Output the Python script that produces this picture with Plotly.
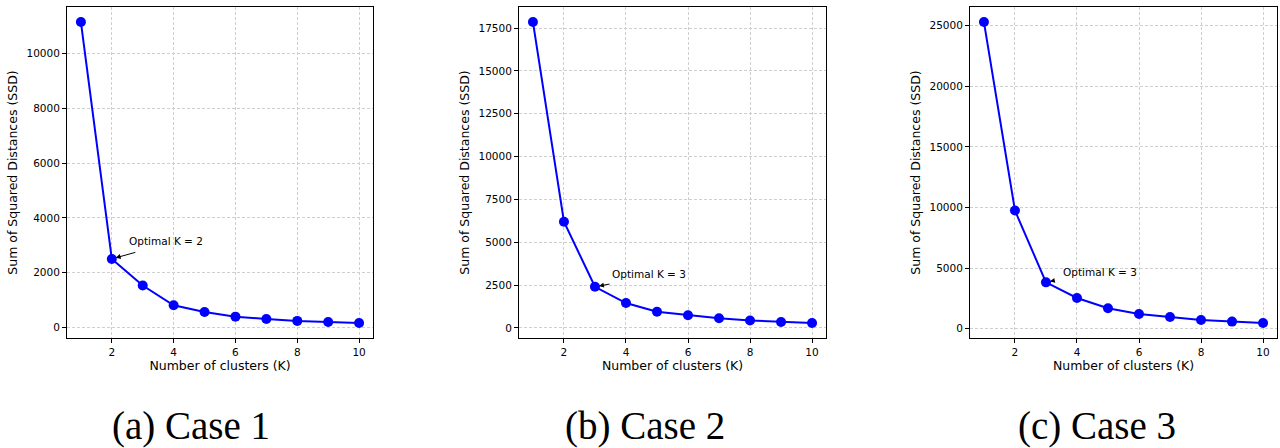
import plotly.graph_objects as go

W, H = 1280, 448

k_values = [1, 2, 3, 4, 5, 6, 7, 8, 9, 10]
ssd_case1 = [11160, 2500, 1530, 805, 560, 390, 305, 235, 195, 160]
ssd_case2 = [17850, 6200, 2400, 1450, 940, 735, 560, 430, 350, 290]
ssd_case3 = [25300, 9750, 3820, 2530, 1680, 1215, 965, 720, 580, 470]
optimal_k = [2, 3, 3]
captions = ["(a) Case 1", "(b) Case 2", "(c) Case 3"]
y_dticks = [2000, 2500, 5000]
x_ticks = [2, 4, 6, 8, 10]

series = [ssd_case1, ssd_case2, ssd_case3]

# layout (pixels)
panel_x = [(67, 373), (519, 826), (970, 1277)]
panel_y = (7, 338)
caption_x = [191, 645, 1097]
arrow_offsets = [(25, -7), (16, -3), (9, -2)]

FONT = "DejaVu Sans"
fig = go.Figure()

for i, ssd in enumerate(series):
    n = i + 1
    xa = "x" if n == 1 else f"x{n}"
    ya = "y" if n == 1 else f"y{n}"
    fig.add_trace(go.Scatter(
        x=k_values, y=ssd, mode="lines+markers",
        line=dict(color="#0000ff", width=2),
        marker=dict(color="#0000ff", size=10),
        xaxis=xa, yaxis=ya, showlegend=False, hoverinfo="x+y"))

    lo, hi = min(ssd), max(ssd)
    span = hi - lo
    yr = [lo - 0.05 * span, hi + 0.05 * span]
    xr = [1 - 0.05 * 9, 10 + 0.05 * 9]

    common = dict(showline=True, linecolor="black", linewidth=1, mirror=True,
                  ticks="outside", ticklen=4, tickwidth=1, tickcolor="black",
                  showgrid=True, gridcolor="#cfcfcf", gridwidth=1, griddash="3px,2px",
                  zeroline=False, tickfont=dict(family=FONT, size=10.5, color="black"))
    fig.layout[("xaxis" if n == 1 else f"xaxis{n}")] = dict(
        common,
        domain=[panel_x[i][0] / W, panel_x[i][1] / W],
        anchor=ya, range=xr, tickmode="array", tickvals=x_ticks,
        title=dict(text="Number of clusters (K)", font=dict(family=FONT, size=12.5, color="black"),
                   standoff=3))
    fig.layout[("yaxis" if n == 1 else f"yaxis{n}")] = dict(
        common,
        domain=[1 - panel_y[1] / H, 1 - panel_y[0] / H],
        anchor=xa, range=yr, tickmode="linear", tick0=0, dtick=y_dticks[i], tickformat="d",
        title=dict(text="Sum of Squared Distances (SSD)", font=dict(family=FONT, size=12.5, color="black"),
                   standoff=6))

    kopt = optimal_k[i]
    px_, py_ = kopt, ssd[kopt - 1]
    # arrow
    fig.add_annotation(x=px_, y=py_, xref=xa, yref=ya, text="", showarrow=True,
                       ax=arrow_offsets[i][0], ay=arrow_offsets[i][1],
                       arrowhead=2, arrowsize=1, arrowwidth=1, arrowcolor="black", standoff=4)
    # label
    fig.add_annotation(x=px_ + 0.5, y=py_ + 500, xref=xa, yref=ya,
                       text=f"Optimal K = {kopt}", showarrow=False,
                       xanchor="left", yanchor="bottom", yshift=-4,
                       font=dict(family=FONT, size=10.5, color="black"))
    # caption
    fig.add_annotation(x=caption_x[i] / W, y=1 - 426 / H, xref="paper", yref="paper",
                       text=captions[i], showarrow=False, xanchor="center", yanchor="middle",
                       font=dict(family="Liberation Serif", size=39, color="black"))

fig.update_layout(width=W, height=H, margin=dict(l=0, r=0, t=0, b=0),
                  paper_bgcolor="white", plot_bgcolor="white")
fig.write_html("out.html")
